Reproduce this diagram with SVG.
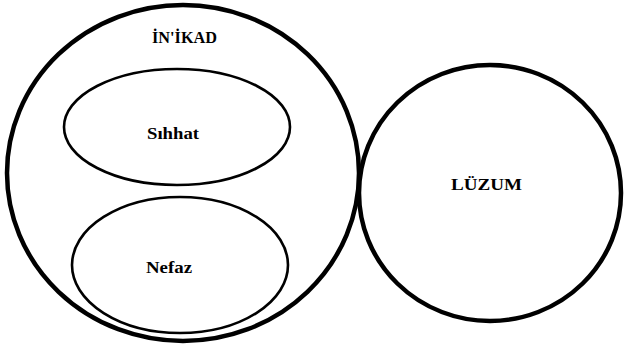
<svg xmlns="http://www.w3.org/2000/svg" width="624" height="344" viewBox="0 0 624 344">
<style>
.thick{fill:none;stroke:#000;stroke-width:4.5}
.thin{fill:none;stroke:#000;stroke-width:2.6}
text{font-family:'Liberation Serif','DejaVu Serif',serif;font-weight:700;font-size:17px;fill:#000;text-anchor:middle}
</style>
<rect width="624" height="344" fill="#fff"/>
<g id="inikad">
<ellipse class="thick" cx="183" cy="173" rx="176" ry="168"/>
<text x="184.5" y="43" textLength="65" lengthAdjust="spacingAndGlyphs">İN'İKAD</text>
</g>
<g id="sihhat">
<ellipse class="thin" cx="177" cy="127" rx="113" ry="58"/>
<text x="173" y="139" textLength="52" lengthAdjust="spacingAndGlyphs">Sıhhat</text>
</g>
<g id="nefaz">
<ellipse class="thin" cx="180" cy="265" rx="108" ry="68"/>
<text x="169" y="273" textLength="46" lengthAdjust="spacingAndGlyphs">Nefaz</text>
</g>
<g id="luzum">
<ellipse class="thick" cx="490" cy="193" rx="131" ry="128"/>
<text x="486.5" y="190" textLength="71" lengthAdjust="spacingAndGlyphs">LÜZUM</text>
</g>
<g id="connectors"></g>
</svg>
